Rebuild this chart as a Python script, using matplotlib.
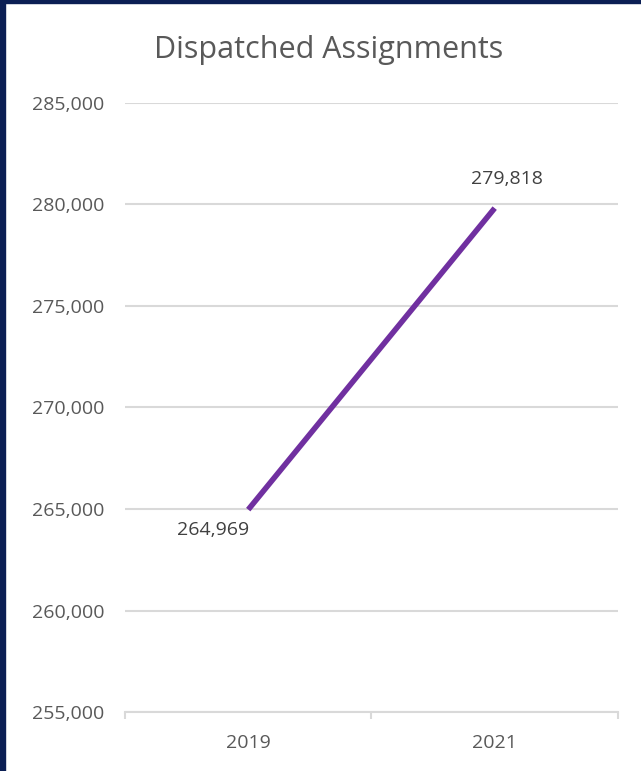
import matplotlib
matplotlib.use("Agg")
import matplotlib.pyplot as plt
from matplotlib.patches import Rectangle
from matplotlib.ticker import FuncFormatter

years = ["2019", "2021"]
assignments = [264969, 279818]
y_ticks = [255000, 260000, 265000, 270000, 275000, 280000, 285000]

plt.rcParams["font.family"] = ["Open Sans", "DejaVu Sans"]
text_grey = "#595959"
grid_grey = "#d9d9d9"

fig = plt.figure(figsize=(6.41, 7.71), dpi=100)
ax = fig.add_axes([0.195, 0.0765, 0.769, 0.79])

x = list(range(len(years)))
ax.plot(x, assignments, color="#7030a0", lw=4, solid_capstyle="butt")

ax.set_xlim(-0.5, len(years) - 0.5)
ax.set_ylim(y_ticks[0], y_ticks[-1])
ax.set_yticks(y_ticks)
ax.yaxis.set_major_formatter(FuncFormatter(lambda v, _: f"{v:,.0f}"))
ax.set_xticks(x)
ax.set_xticklabels(years)
ax.set_xticks([-0.5, 0.5, 1.5], minor=True)

ax.grid(axis="y", color=grid_grey, lw=1.5)
ax.set_axisbelow(True)
for side in ("top", "right", "left"):
    ax.spines[side].set_visible(False)
ax.spines["bottom"].set_color(grid_grey)
ax.spines["bottom"].set_linewidth(1.5)

ax.tick_params(axis="y", length=0, labelsize=14, labelcolor=text_grey, pad=15)
ax.tick_params(axis="x", which="major", length=0, labelsize=14,
               labelcolor=text_grey, pad=16)
ax.tick_params(axis="x", which="minor", length=5, width=1.5, color=grid_grey)

# data labels
ax.annotate(f"{assignments[0]:,}", (x[0], assignments[0]), xytext=(-25, -15),
            textcoords="offset points", ha="center", va="center",
            fontsize=14, color="#404040")
ax.annotate(f"{assignments[1]:,}", (x[1], assignments[1]), xytext=(9, 21),
            textcoords="offset points", ha="center", va="center",
            fontsize=14, color="#404040")

fig.text(0.512, 0.935, "Dispatched Assignments", ha="center", va="center",
         fontsize=22, color=text_grey)

# navy frame on top/left edges
navy = "#0b1f54"
fig.patches.append(Rectangle((0, 1 - 3 / 771), 1, 3 / 771, transform=fig.transFigure,
                             color=navy, zorder=10))
fig.patches.append(Rectangle((0, 0), 5 / 641, 1, transform=fig.transFigure,
                             color=navy, zorder=10))

fig.savefig("out.png", dpi=100)
